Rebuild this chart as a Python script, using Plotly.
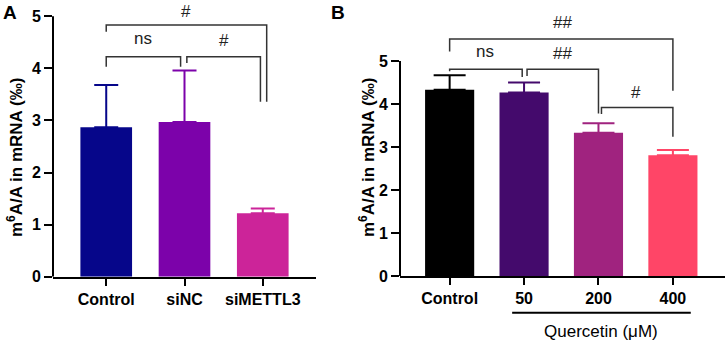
import plotly.graph_objects as go

# ---- data ----
cats_a = ["Control", "siNC", "siMETTL3"]
mean_a = [2.87, 2.97, 1.22]
err_a = [0.81, 0.99, 0.09]
colors_a = ["#06068a", "#7c02aa", "#cc2499"]

cats_b = ["Control", "50", "200", "400"]
mean_b = [4.33, 4.27, 3.33, 2.81]
err_b = [0.34, 0.23, 0.22, 0.12]
colors_b = ["#000000", "#440a6c", "#a0237f", "#ff4567"]

yticks = [0, 1, 2, 3, 4, 5]

# significance brackets: (x0, x1, top, left_leg_end, right_leg_end, label, label_x, label_y)
brackets_a = [
    (0.0, 0.95, 4.22, 4.03, 4.03, "ns", 0.47, 4.57),
    (1.03, 1.97, 4.22, 4.10, 3.36, "#", 1.50, 4.54),
    (0.0, 2.05, 4.83, 4.70, 3.36, "#", 1.02, None),   # None -> pinned to top edge
]
brackets_b = [
    (0.0, 0.975, 4.81, 4.76, 4.63, "ns", 0.47, 5.22),
    (1.04, 2.0, 4.81, 4.65, 3.78, "##", 1.51, 5.18),
    (2.04, 3.0, 3.92, 3.77, 3.24, "#", 2.51, 4.26),
    (0.0, 3.0, 5.51, 5.22, 4.31, "##", 1.51, 5.89),
]

FONT = "Arial, Liberation Sans, sans-serif"
W, H = 726, 343
YMAX_A = 276.7 / 52.1
YMAX_B = 276 / 43.0

fig = go.Figure()

def add_bars(cats, means, errs, colors, xa, ya, capw):
    for c, m, e, col in zip(cats, means, errs, colors):
        fig.add_trace(go.Bar(
            x=[c], y=[m], xaxis=xa, yaxis=ya, width=0.66,
            marker=dict(color=col, line=dict(width=0)),
            error_y=dict(type="data", symmetric=False, array=[e], arrayminus=[0],
                         color=col, thickness=2, width=capw),
            showlegend=False, hoverinfo="skip"))

add_bars(cats_a, mean_a, err_a, colors_a, "x", "y", 12)
add_bars(cats_b, mean_b, err_b, colors_b, "x2", "y2", 16)

shapes = []
annotations = []

def add_brackets(brs, xr, yr, ymax):
    for x0, x1, top, l, r, lab, lx, ly in brs:
        shapes.append(dict(type="path", xref=xr, yref=yr,
                           path=f"M {x0},{l} L {x0},{top} L {x1},{top} L {x1},{r}",
                           line=dict(color="#333333", width=1.5)))
        annotations.append(dict(x=lx, y=ymax if ly is None else ly, xref=xr, yref=yr,
                                text=lab, showarrow=False, xanchor="center",
                                yanchor="top" if ly is None else "middle",
                                font=dict(family=FONT, size=17, color="#222222")))

add_brackets(brackets_a, "x", "y", YMAX_A)
add_brackets(brackets_b, "x2", "y2", YMAX_B)

# vertical axis lines (only up to 5)
for xr, yr in (("x domain", "y"), ("x2 domain", "y2")):
    shapes.append(dict(type="line", xref=xr, yref=yr, x0=0, x1=0, y0=0, y1=5,
                       line=dict(color="black", width=2)))

# Quercetin underline
shapes.append(dict(type="line", xref="x2", yref="paper", x0=0.84, x1=3.24,
                   y0=(H - 312.7) / H, y1=(H - 312.7) / H, line=dict(color="black", width=2)))
annotations.append(dict(x=2.04, y=0, xref="x2", yref="paper",
                        text="Quercetin (μM)", showarrow=False,
                        xanchor="center", yanchor="bottom",
                        font=dict(family=FONT, size=17, color="black")))

# y titles
ytitle = "<b>m<sup>6</sup>A/A in mRNA (‰)</b>"
annotations.append(dict(x=15 / W, y=(H - 158) / H, xref="paper", yref="paper", text=ytitle,
                        textangle=-90, showarrow=False, xanchor="center", yanchor="middle",
                        font=dict(family=FONT, size=17, color="black")))
annotations.append(dict(x=367 / W, y=(H - 157) / H, xref="paper", yref="paper", text=ytitle,
                        textangle=-90, showarrow=False, xanchor="center", yanchor="middle",
                        font=dict(family=FONT, size=17, color="black")))

# panel letters
annotations.append(dict(x=9.5 / W, y=1, xref="paper", yref="paper", text="<b>A</b>",
                        showarrow=False, xanchor="center", yanchor="top",
                        font=dict(family=FONT, size=19, color="black")))
annotations.append(dict(x=338 / W, y=1, xref="paper", yref="paper", text="<b>B</b>",
                        showarrow=False, xanchor="center", yanchor="top",
                        font=dict(family=FONT, size=19, color="black")))

xcommon = dict(showline=True, linecolor="black", linewidth=2, ticks="outside",
               ticklen=7, tickwidth=2, tickcolor="black", showgrid=False, zeroline=False,
               tickfont=dict(family=FONT, size=16, color="black", weight="bold"),
               fixedrange=True, automargin=False)
ycommon = dict(showline=False, ticks="outside", ticklen=8, tickwidth=2, tickcolor="black",
               tickvals=yticks, showgrid=False, zeroline=False,
               tickfont=dict(family=FONT, size=16, color="black", weight="bold"),
               fixedrange=True, automargin=False)

fig.update_layout(
    width=W, height=H, margin=dict(l=0, r=0, t=0, b=0, pad=0, autoexpand=False),
    paper_bgcolor="white", plot_bgcolor="white", barmode="overlay", autosize=False,
    xaxis=dict(domain=[53 / W, 316 / W], range=[-0.68, 2.68], anchor="y", **xcommon),
    yaxis=dict(domain=[(H - 276.7) / H, 1], range=[0, YMAX_A], anchor="x", **ycommon),
    xaxis2=dict(domain=[400 / W, 725 / W], range=[-0.667, 3.70], anchor="y2", **xcommon),
    yaxis2=dict(domain=[(H - 276) / H, 1], range=[0, YMAX_B], anchor="x2", **ycommon),
    shapes=shapes, annotations=annotations,
)

fig.write_html("out.html", config={"displayModeBar": False, "responsive": False},
               post_script="document.body.style.margin='0px';")
